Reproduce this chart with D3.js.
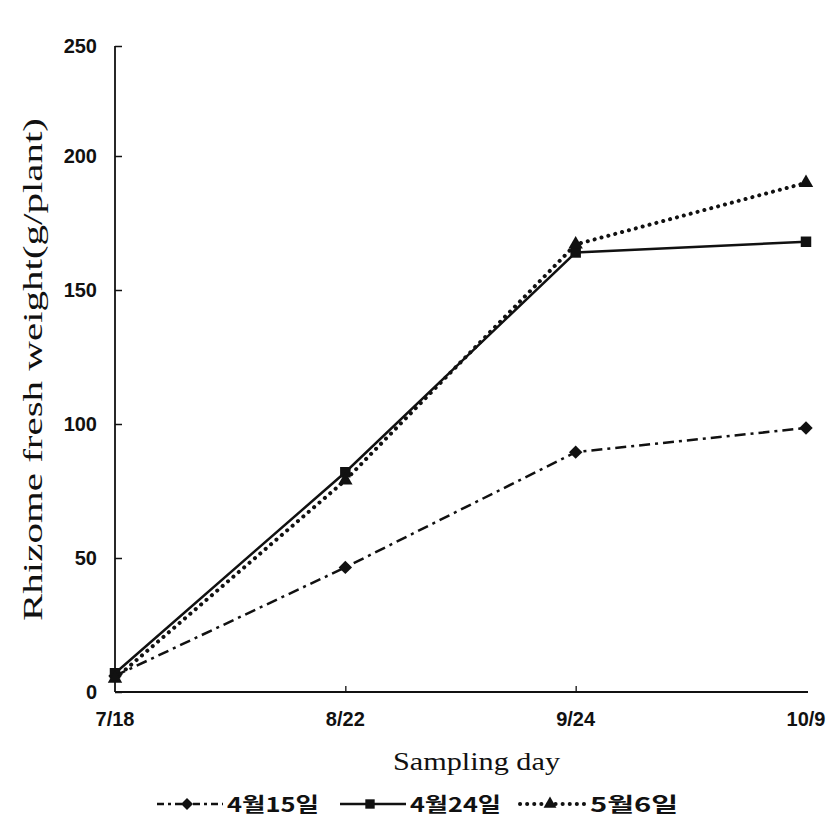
<!DOCTYPE html>
<html><head><meta charset="utf-8">
<script src="https://cdn.jsdelivr.net/npm/d3@7"></script>
<style>body{margin:0;background:#fff}</style>
</head><body>
<svg id="c" width="835" height="820"></svg>
<script>
const days = ["7/18","8/22","9/24","10/9"];
const s0415 = [6, 46.5, 89.5, 98.5];
const s0424 = [7, 82, 164, 168];
const s0506 = [5, 79, 167, 190];
const seriesNames = ["4월15일","4월24일","5월6일"];
const yTicks = [0,50,100,150,200,250];

const svg = d3.select("#c");
const x = d3.scalePoint().domain(days).range([115, 806]);
const y = d3.scaleLinear().domain([0,200,250]).range([692,156,46]);

// axes
const yAx = svg.append("g").attr("transform","translate(115,0)")
  .call(d3.axisRight(y).tickValues(yTicks).tickSize(7).tickFormat(""));
yAx.select(".domain").remove();
yAx.selectAll(".tick line").attr("stroke","#111").attr("stroke-width",1.5);
svg.append("line").attr("x1",115).attr("x2",115).attr("y1",y(250)).attr("y2",y(0))
  .attr("stroke","#111").attr("stroke-width",1.8);
svg.append("line").attr("x1",115).attr("x2",808).attr("y1",y(0)).attr("y2",y(0))
  .attr("stroke","#111").attr("stroke-width",1.8);
const xAx = svg.append("g").attr("transform",`translate(0,${y(0)})`)
  .call(d3.axisTop(x).tickValues(days.slice(1,3)).tickSize(6).tickFormat(""));
xAx.select(".domain").remove();
xAx.selectAll(".tick line").attr("stroke","#111").attr("stroke-width",1.3);

svg.selectAll(".ylab").data(yTicks).enter().append("text")
  .attr("x",97).attr("y",d=>y(d)+7).attr("text-anchor","end")
  .attr("font-family","Liberation Sans, Arial, sans-serif").attr("font-size",20).attr("font-weight","bold")
  .attr("fill","#111").text(d=>d);
svg.selectAll(".xlab").data(days).enter().append("text")
  .attr("x",d=>x(d)).attr("y",726).attr("text-anchor","middle")
  .attr("font-family","Liberation Sans, Arial, sans-serif").attr("font-size",20).attr("font-weight","bold")
  .attr("fill","#111").text(d=>d);

svg.append("text").attr("x",393).attr("y",770)
  .attr("font-family","Liberation Serif, Times New Roman, serif").attr("font-size",26)
  .attr("textLength",167).attr("lengthAdjust","spacingAndGlyphs")
  .attr("fill","#111").text("Sampling day");
svg.append("text").attr("transform","translate(42,621) rotate(-90)")
  .attr("font-family","Liberation Serif, Times New Roman, serif").attr("font-size",27)
  .attr("textLength",503).attr("lengthAdjust","spacingAndGlyphs")
  .attr("fill","#111").text("Rhizome fresh weight(g/plant)");

const diamond = {draw(ctx, size){const r=Math.sqrt(size/2); ctx.moveTo(0,-r); ctx.lineTo(r,0); ctx.lineTo(0,r); ctx.lineTo(-r,0); ctx.closePath();}};
const series = [
  {name:seriesNames[0], vals:s0415, dash:"11,5,3,5", sym:diamond, size:90, cap:"butt", w:2.5},
  {name:seriesNames[1], vals:s0424, dash:null, sym:d3.symbolSquare, size:110, cap:"butt", w:2.5},
  {name:seriesNames[2], vals:s0506, dash:"0.1,7", sym:d3.symbolTriangle, size:90, cap:"round", w:4}
];
const line = d3.line().x((d,i)=>x(days[i])).y(d=>y(d));
series.forEach(s=>{
  svg.append("path").attr("d",line(s.vals)).attr("fill","none").attr("stroke","#111")
    .attr("stroke-width", s.w).attr("stroke-dasharray",s.dash).attr("stroke-linecap",s.cap);
  svg.selectAll(null).data(s.vals).enter().append("path")
    .attr("d",d3.symbol().type(s.sym).size(s.size))
    .attr("transform",(d,i)=>`translate(${x(days[i])},${y(d)})`).attr("fill","#111");
});

// legend
const legX = [157, 340, 520];
const legTextW = [92, 91, 88];
series.forEach((s,i)=>{
  const g = svg.append("g").attr("transform",`translate(${legX[i]},804)`);
  g.append("line").attr("x1",0).attr("x2",66).attr("y1",0).attr("y2",0).attr("stroke","#111")
    .attr("stroke-width", s.w).attr("stroke-dasharray",s.dash==="11,5,3,5"?"7,4,3,4":s.dash).attr("stroke-linecap",s.cap);
  g.append("path").attr("d",d3.symbol().type(s.sym).size(s.size*0.8)).attr("transform","translate(30,0)").attr("fill","#111");
  g.append("text").attr("x",70).attr("y",8).attr("font-family","Noto Sans CJK KR, sans-serif")
    .attr("font-size",20).attr("font-weight","bold").attr("textLength",legTextW[i]).attr("lengthAdjust","spacingAndGlyphs")
    .attr("fill","#111").text(s.name);
});
</script>
</body></html>
